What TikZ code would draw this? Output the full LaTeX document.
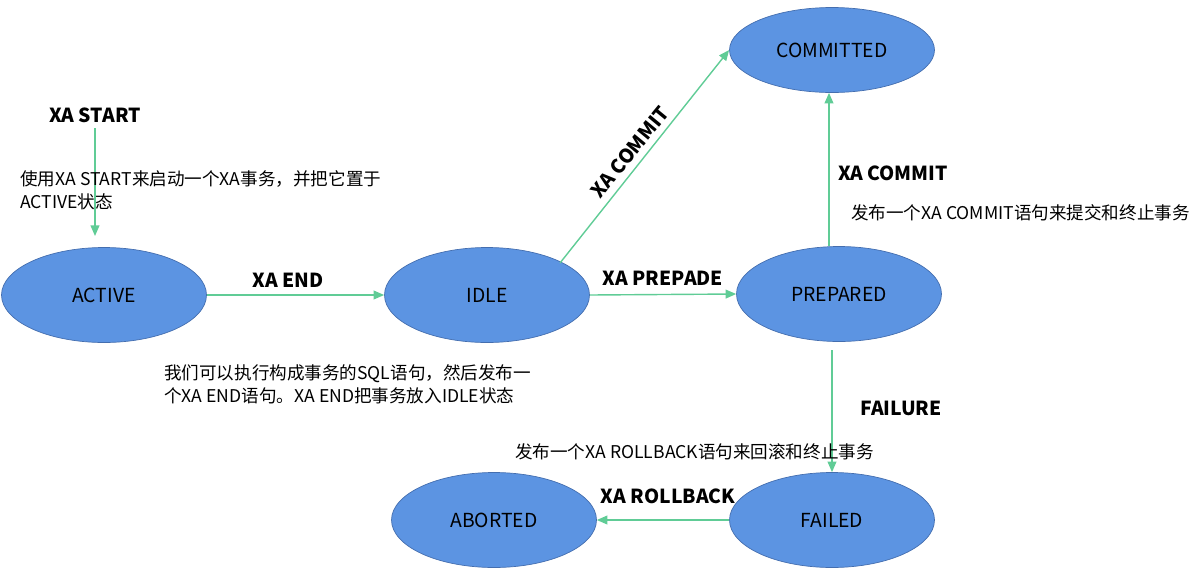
\documentclass[tikz,border=0pt]{standalone}
\usepackage{fontspec}
\setmainfont{Noto Sans CJK SC}
\usetikzlibrary{arrows.meta,shapes.geometric}
\definecolor{stfill}{RGB}{92,148,226}
\definecolor{stdraw}{RGB}{68,110,175}
\definecolor{edge}{RGB}{96,204,150}
\tikzset{
  state/.style={ellipse, fill=stfill, draw=stdraw, thin, minimum width=4.1cm, minimum height=1.9cm, font=\fontsize{11}{13}\selectfont},
  trans/.style={draw=edge, thick, -{Triangle[length=6pt,width=5pt]}},
  lbl/.style={font=\bfseries\fontsize{11}{13}\selectfont},
  note/.style={font=\fontsize{10}{13}\selectfont, align=left, anchor=west}
}
\begin{document}
\begin{tikzpicture}[x=0.02cm,y=-0.02cm]
\useasboundingbox (0,0) rectangle (1201,579);
%states
\node[state] (active) at (104,295) {ACTIVE};
\node[state] (idle) at (487,295) {IDLE};
\node[state] (prepared) at (839,294) {PREPARED};
\node[state, minimum height=1.7cm] (committed) at (832,50) {COMMITTED};
\node[state] (failed) at (832,520) {FAILED};
\node[state] (aborted) at (494,520) {ABORTED};
%free ends
\coordinate (start) at (95,128);
\coordinate (startend) at (95,236);
\coordinate (idlecorner) at (560,263);
\coordinate (prepbottom) at (832,350);
%transitions
\draw[trans] (start) -- (startend);
\draw[trans] (active.east) -- (idle.west);
\draw[trans] (idlecorner) -- (committed.west);
\draw[trans] (idle.east) -- (prepared.west);
\draw[trans] (prepared.north -| 829,0) -- (committed.south -| 829,0);
\draw[trans] (prepbottom) -- (failed.north);
\draw[trans] (failed.west) -- (aborted.east);
%labels
\node[lbl] (lstart) at (95,115) {XA START};
\node[note] (nstart) at (14,190) {使用XA START来启动一个XA事务，并把它置于\\ACTIVE状态};
\node[lbl] (lend) at (288,280) {XA END};
\node[note] (nend) at (158,384) {我们可以执行构成事务的SQL语句，然后发布一\\个XA END语句。XA END把事务放入IDLE状态};
\node[lbl, rotate=50.5] (lcommit1) at (630,152) {XA COMMIT};
\node[lbl] (lprep) at (663,278) {XA PREPADE};
\node[lbl] (lcommit2) at (893,173) {XA COMMIT};
\node[note] (ncommit) at (845,213) {发布一个XA COMMIT语句来提交和终止事务};
\node[lbl] (lfail) at (901,408) {FAILURE};
\node[note] (nfail) at (509,452) {发布一个XA ROLLBACK语句来回滚和终止事务};
\node[lbl] (lroll) at (668,496) {XA ROLLBACK};
\end{tikzpicture}
\end{document}
